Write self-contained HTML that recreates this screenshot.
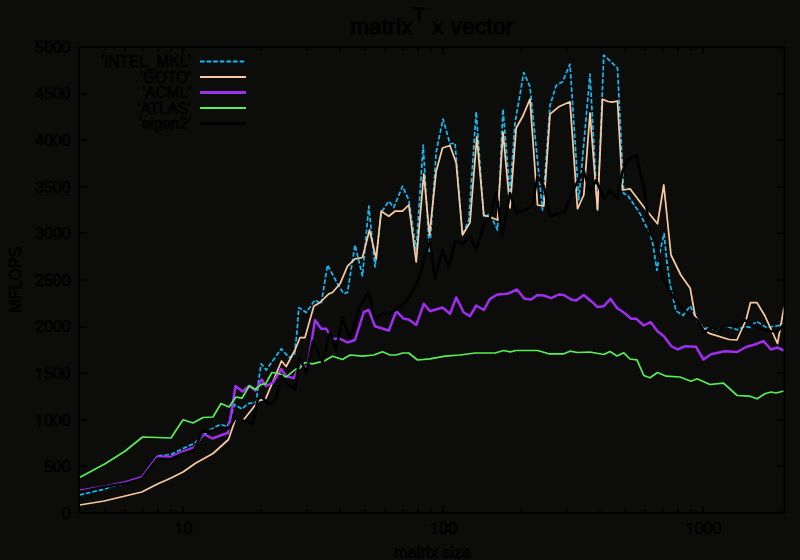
<!DOCTYPE html><html><head><meta charset="utf-8"><style>html,body{margin:0;padding:0;background:#0c0c0a;}svg{display:block}</style></head><body><svg width="800" height="560" viewBox="0 0 800 560"><rect x="0" y="0" width="800" height="560" fill="#0c0c0a"/><path d="M80 466h7M783.5 466h-6.5M80 420h7M783.5 420h-6.5M80 373h7M783.5 373h-6.5M80 327h7M783.5 327h-6.5M80 280h7M783.5 280h-6.5M80 233h7M783.5 233h-6.5M80 187h7M783.5 187h-6.5M80 140h7M783.5 140h-6.5M80 94h7M783.5 94h-6.5M105 512v-3M105 48v3M125 512v-3M125 48v3M143 512v-3M143 48v3M158 512v-3M158 48v3M171 512v-3M171 48v3M183 512v-6M183 48v6M261 512v-3M261 48v3M307 512v-3M307 48v3M340 512v-3M340 48v3M365 512v-3M365 48v3M385 512v-3M385 48v3M403 512v-3M403 48v3M418 512v-3M418 48v3M431 512v-3M431 48v3M443 512v-6M443 48v6M521 512v-3M521 48v3M567 512v-3M567 48v3M600 512v-3M600 48v3M625 512v-3M625 48v3M645 512v-3M645 48v3M663 512v-3M663 48v3M678 512v-3M678 48v3M691 512v-3M691 48v3M703 512v-6M703 48v6M781 512v-3M781 48v3" stroke="#000" stroke-width="2" fill="none"/><g font-family="Liberation Sans, sans-serif" font-size="16" fill="#000" stroke="#000" stroke-width="0.5"><text x="70.60" y="518.80" text-anchor="end">0</text><text x="70.60" y="472.20" text-anchor="end">500</text><text x="70.60" y="425.60" text-anchor="end"> 000</text><text x="70.60" y="379.00" text-anchor="end"> 500</text><text x="70.60" y="332.40" text-anchor="end">2000</text><text x="70.60" y="285.80" text-anchor="end">2500</text><text x="70.60" y="239.20" text-anchor="end">3000</text><text x="70.60" y="192.60" text-anchor="end">3500</text><text x="70.60" y="146.00" text-anchor="end">4000</text><text x="70.60" y="99.40" text-anchor="end">4500</text><text x="70.60" y="52.80" text-anchor="end">5000</text><text x="183.50" y="533.80" text-anchor="middle"> 0</text><text x="443.50" y="533.80" text-anchor="middle"> 00</text><text x="703.50" y="533.80" text-anchor="middle"> 000</text></g><g fill="#000" stroke="#000" stroke-width="64.0"><path transform="translate(35.01,425.60) scale(0.007812,-0.007812)" d="M515 0V1237L197 1010V1180L530 1409H696V0Z"/><path transform="translate(35.01,379.00) scale(0.007812,-0.007812)" d="M515 0V1237L197 1010V1180L530 1409H696V0Z"/><path transform="translate(174.60,533.80) scale(0.007812,-0.007812)" d="M515 0V1237L197 1010V1180L530 1409H696V0Z"/><path transform="translate(430.15,533.80) scale(0.007812,-0.007812)" d="M515 0V1237L197 1010V1180L530 1409H696V0Z"/><path transform="translate(685.70,533.80) scale(0.007812,-0.007812)" d="M515 0V1237L197 1010V1180L530 1409H696V0Z"/></g><g font-family="Liberation Sans, sans-serif" fill="#000" stroke="#000" stroke-width="0.85"><text x="350.6" y="33.6" font-size="22" textLength="62.1" lengthAdjust="spacing">matrix</text><text x="413.7" y="20.8" font-size="17.6">T</text><text x="432.3" y="33.6" font-size="22.5">x</text><text x="451.0" y="33.6" font-size="22" textLength="62.2" lengthAdjust="spacing">vector</text></g><g font-family="Liberation Sans, sans-serif" fill="#000" stroke="#000" stroke-width="0.5"><text x="432.6" y="557.6" font-size="16" text-anchor="middle">matrix size</text><text transform="translate(21,279.8) rotate(-90)" font-size="16" text-anchor="middle">MFLOPS</text></g><g font-family="Liberation Sans, sans-serif" font-size="16" fill="#000" stroke="#000" stroke-width="0.5"><text transform="translate(191.0,67.2) scale(0.965,1)" text-anchor="end">'INTEL_MKL'</text><text transform="translate(191.0,82.7) scale(0.965,1)" text-anchor="end">'GOTO'</text><text transform="translate(191.0,98.2) scale(0.965,1)" text-anchor="end">'ACML'</text><text transform="translate(191.0,113.7) scale(0.965,1)" text-anchor="end">'ATLAS'</text><text transform="translate(191.0,129.2) scale(0.965,1)" text-anchor="end">'eigen2'</text></g><path d="M200 61.5H246" stroke="#12bcf8" stroke-width="2" stroke-dasharray="4.6 2" fill="none"/><path d="M200 77H246" stroke="#f8c99e" stroke-width="2" fill="none"/><path d="M200 92.5H246" stroke="#a02ef0" stroke-width="3" fill="none"/><path d="M200 108H246" stroke="#55f055" stroke-width="2" fill="none"/><path d="M200 123.5H246" stroke="#000000" stroke-width="3" fill="none"/><g fill="none" stroke-linejoin="round" stroke-linecap="butt"><path d="M79.5,495.0 104.7,489.0 112.0,486.4 125.3,483.5 141.8,478.7 157.5,456.0 171.0,454.5 182.0,449.0 194.0,443.5 208.8,430.6 220.3,424.4 227.5,426.5 234.5,404.5 242.0,409.0 247.5,403.8 256.5,402.0 258.8,378.8 261.2,363.8 266.2,370.0 281.2,348.8 289.0,357.5 294.5,354.5 297.0,332.0 298.8,307.5 306.2,312.5 315.0,300.0 321.2,303.8 327.5,265.0 337.5,283.8 343.8,293.8 347.5,292.5 355.0,245.0 362.5,276.0 368.8,206.2 375.0,267.0 381.2,212.5 388.8,201.2 393.8,207.5 402.5,186.2 408.8,200.0 416.2,250.0 423.2,145.0 429.5,252.5 436.2,152.0 443.0,119.0 450.0,144.0 455.0,143.0 462.5,235.0 468.8,220.0 476.2,111.8 483.8,217.5 490.0,213.8 497.5,230.0 503.0,109.2 510.0,193.8 515.0,123.0 523.8,72.5 530.0,86.8 542.5,210.0 550.0,105.5 556.2,85.5 562.5,81.8 570.0,64.2 578.8,200.0 590.0,74.2 597.5,210.0 603.8,55.0 617.5,68.0 623.8,193.8 627.5,195.0 640.0,213.5 646.0,226.0 650.0,232.5 653.0,245.0 657.0,270.4 660.6,249.0 664.1,233.6 666.5,258.5 670.1,284.6 676.0,310.8 683.1,315.5 690.2,306.0 697.4,321.4 704.5,328.6 710.4,327.4 716.4,331.0 725.9,326.2 737.8,329.8 744.9,326.2 749.6,327.4 756.8,321.4 766.2,327.4 775.8,326.2 784.0,323.8" stroke="#12bcf8" stroke-width="1.7" stroke-dasharray="4.6 2"/><path d="M79.5,505.0 104.2,501.0 141.8,492.0 158.0,483.8 170.5,478.2 183.0,472.0 195.5,463.2 213.0,453.5 228.5,439.5 235.5,419.0 243.5,420.0 258.8,400.6 265.6,398.8 281.5,361.0 286.2,366.5 295.0,350.0 300.0,337.5 305.0,337.5 313.8,306.2 320.0,302.5 328.8,293.8 332.5,292.5 340.0,283.8 347.5,266.2 355.0,258.8 362.5,257.5 369.5,230.0 376.2,258.8 381.2,211.2 388.8,216.2 395.0,211.2 402.5,211.2 408.8,205.0 416.2,262.0 423.8,173.8 429.5,235.0 436.2,171.2 442.5,148.0 450.0,145.5 456.2,163.0 462.5,235.0 470.0,222.5 476.8,137.0 483.8,215.0 491.2,217.5 497.5,220.0 503.0,132.0 510.0,208.0 516.2,128.0 522.5,116.8 530.0,99.2 537.5,205.0 543.8,206.2 550.0,114.2 558.8,106.8 570.0,101.8 577.5,208.8 583.8,195.0 590.0,113.0 597.5,210.0 602.5,99.2 608.0,101.5 612.5,102.2 617.5,101.0 622.5,190.0 630.0,188.8 645.0,208.5 657.5,223.8 663.8,185.0 671.0,255.0 680.8,275.0 690.2,288.2 695.0,315.5 702.1,327.4 709.2,333.3 729.0,339.5 736.9,340.0 746.0,320.0 750.5,302.5 756.9,302.5 765.0,316.0 770.0,327.0 777.5,343.5 784.0,307.5" stroke="#f8c99e" stroke-width="1.75"/><path d="M79.5,490.7 104.7,486.5 125.3,482.2 141.8,477.3 157.5,456.5 171.0,457.0 182.0,452.0 194.0,447.5 203.5,434.0 212.5,438.5 223.0,434.5 228.0,433.0 235.5,386.0 242.5,391.5 249.2,385.8 255.5,390.5 261.5,379.5 266.0,386.0 273.0,382.5 281.2,369.0 286.2,376.2 293.8,378.1 300.0,365.0 307.5,367.5 315.0,320.0 321.2,328.8 326.2,328.8 332.5,338.8 340.0,338.8 347.5,342.5 355.0,340.0 363.8,312.0 368.8,310.0 375.0,326.2 388.8,330.5 396.2,311.2 403.8,318.8 408.8,319.5 416.2,325.0 423.8,303.8 430.0,311.2 442.5,307.5 450.0,313.8 456.2,297.5 463.8,312.5 470.0,316.2 476.2,305.5 483.8,310.0 490.0,298.8 497.5,294.5 507.5,293.8 517.0,289.5 524.5,298.8 531.2,299.5 537.5,295.0 543.8,295.5 551.2,298.2 558.8,294.5 563.8,295.0 571.2,299.5 576.2,300.5 583.8,295.0 591.2,301.2 597.5,307.0 603.8,306.2 610.5,298.8 617.0,308.0 623.8,312.5 631.2,318.8 636.2,318.8 643.8,325.5 650.5,322.0 657.5,331.2 663.8,336.2 671.2,346.0 677.5,349.5 684.5,346.3 696.0,346.8 703.5,359.5 711.0,354.2 724.8,351.2 737.2,352.0 746.0,347.0 754.8,344.5 763.5,341.2 771.0,349.5 777.2,347.5 784.0,350.5" stroke="#a02ef0" stroke-width="2.5"/><path d="M79.5,477.5 104.7,464.0 125.3,451.0 142.5,437.0 157.5,437.5 171.0,438.0 183.0,419.8 193.0,423.0 203.0,417.5 213.0,417.0 221.0,403.5 229.0,407.0 236.0,397.0 242.0,398.2 249.3,385.8 255.5,389.5 261.2,384.4 265.6,383.8 271.9,372.5 278.8,373.5 286.2,376.9 295.6,369.4 300.0,368.0 305.0,362.5 312.5,363.8 323.8,361.2 332.5,356.2 342.5,359.5 350.0,355.0 362.5,356.2 373.8,355.0 382.5,351.8 390.0,355.0 396.2,355.0 402.5,353.0 408.8,353.0 417.5,360.0 430.0,358.8 445.0,356.2 460.0,355.0 475.0,353.0 495.0,353.0 503.8,350.5 510.0,351.8 516.2,350.5 537.5,350.5 548.8,353.8 563.8,353.8 570.0,351.2 577.5,352.5 590.0,352.0 603.8,354.5 610.0,351.5 617.0,356.0 623.8,352.8 630.0,359.0 637.0,359.8 643.8,375.5 650.0,377.8 657.5,372.5 666.2,376.2 680.0,377.0 691.0,381.2 697.2,378.8 709.8,384.5 723.5,383.2 737.2,395.5 749.8,396.2 757.2,398.8 764.8,393.8 771.0,392.0 776.0,393.0 784.0,391.0" stroke="#55f055" stroke-width="1.7"/><path d="M79.5,492.1 104.7,486.7 125.3,483.5 141.8,478.7 157.5,458.5 171.0,459.0 182.0,454.0 194.0,450.0 203.0,430.6 208.0,432.0 220.0,428.0 228.0,429.0 235.0,418.5 253.0,423.2 258.0,398.2 261.8,397.0 269.2,404.5 275.5,399.5 281.5,376.0 287.0,384.0 295.0,389.5 299.5,358.0 306.5,372.5 313.0,341.0 322.5,362.5 330.0,332.5 336.2,350.0 342.5,317.5 350.0,338.8 360.0,305.0 368.8,292.5 375.0,320.0 381.2,313.8 388.8,313.8 397.5,308.8 406.2,301.2 413.8,290.0 420.0,275.0 425.0,255.0 430.0,241.2 435.0,278.8 442.5,250.0 448.8,267.5 455.0,241.2 462.5,243.8 470.0,236.2 476.2,250.0 483.8,225.0 490.0,217.5 496.2,192.5 502.5,235.0 510.0,193.0 516.2,212.5 525.0,210.0 532.5,205.0 537.5,176.2 543.8,186.2 550.0,216.2 565.0,211.2 575.0,186.2 583.8,171.2 590.0,192.5 596.2,180.0 603.8,198.8 610.0,190.0 617.5,198.8 622.5,171.2 627.5,160.0 636.5,155.5 643.8,187.5 650.0,232.5 657.5,245.0 662.5,277.5 671.2,294.1 680.8,307.2 690.2,315.5 697.4,320.2 704.5,332.1 711.6,327.4 718.8,331.0 725.9,325.0 733.0,326.2 744.9,320.2 752.0,325.0 763.8,330.0 770.0,331.0 777.5,331.5 784.0,324.0" stroke="#000000" stroke-width="2.6"/></g><rect x="79" y="47" width="705.5" height="466" stroke="#000" stroke-width="2" fill="none"/></svg></body></html>
